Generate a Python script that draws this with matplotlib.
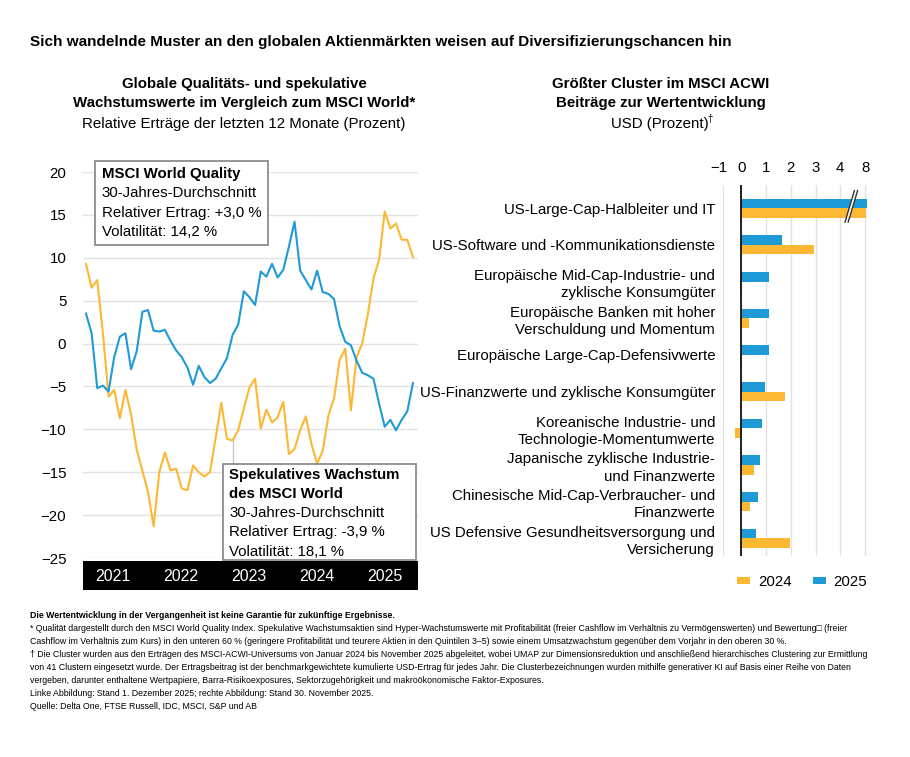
import numpy as np
import matplotlib
matplotlib.use("Agg")
from matplotlib import pyplot as plt
from matplotlib.patches import Rectangle, Patch, Polygon
from matplotlib.transforms import ScaledTranslation

plt.rcParams['font.family'] = ['Liberation Sans', 'DejaVu Sans']

# --- left chart: trailing 12-month relative returns, monthly, Jan 2021 .. Dec 2025
quality = [3.5, 1.2, -5.2, -4.9, -5.6, -1.6, 0.8, 1.2, -3.0, -0.9,
           3.7, 3.9, 1.5, 1.4, 1.6, 0.3, -0.8, -1.6, -2.8, -4.8,
           -2.6, -3.9, -4.6, -4.1, -2.9, -1.7, 1.0, 2.2, 6.1, 5.4,
           4.5, 8.4, 7.8, 9.3, 7.7, 8.6, 11.3, 14.2, 8.5, 7.4,
           6.3, 8.5, 6.0, 5.8, 5.2, 2.0, 0.2, -0.2, -2.0, -3.4,
           -3.7, -4.1, -7.0, -9.7, -8.9, -10.1, -8.9, -7.9, -4.6]
speculative = [9.3, 6.5, 7.4, 1.2, -6.2, -5.4, -8.7, -5.4, -8.3, -12.4,
               -14.8, -17.3, -21.3, -15.0, -12.7, -14.8, -14.6, -16.9, -17.1, -14.2,
               -15.0, -15.5, -15.0, -11.0, -6.9, -11.1, -11.3, -10.1, -7.6, -5.1,
               -4.1, -9.9, -7.7, -9.2, -8.6, -6.8, -12.9, -12.3, -10.1, -8.5,
               -11.7, -14.0, -12.5, -8.4, -6.4, -1.9, -0.6, -7.8, -1.6, 0.0,
               3.4, 7.6, 9.8, 15.4, 13.4, 14.0, 12.1, 12.1, 10.1]
years = ['2021', '2022', '2023', '2024', '2025']
yticks_left = [20, 15, 10, 5, 0, -5, -10, -15, -20, -25]

quality_box = ['MSCI World Quality', '30-Jahres-Durchschnitt',
               'Relativer Ertrag: +3,0 %', 'Volatilität: 14,2 %']
spec_box = ['Spekulatives Wachstum', 'des MSCI World', '30-Jahres-Durchschnitt',
            'Relativer Ertrag: -3,9 %', 'Volatilität: 18,1 %']

# --- right chart: contribution to return by cluster
clusters = ['US-Large-Cap-Halbleiter und IT',
            'US-Software und -Kommunikationsdienste',
            'Europäische Mid-Cap-Industrie- und\nzyklische Konsumgüter',
            'Europäische Banken mit hoher\nVerschuldung und Momentum',
            'Europäische Large-Cap-Defensivwerte',
            'US-Finanzwerte und zyklische Konsumgüter',
            'Koreanische Industrie- und\nTechnologie-Momentumwerte',
            'Japanische zyklische Industrie-\nund Finanzwerte',
            'Chinesische Mid-Cap-Verbraucher- und\nFinanzwerte',
            'US Defensive Gesundheitsversorgung und\nVersicherung']
val_2024 = [8.1, 2.95, -0.05, 0.31, -0.05, 1.75, -0.36, 0.51, 0.35, 1.95]
val_2025 = [8.3, 1.65, 1.1, 1.1, 1.1, 0.95, 0.83, 0.76, 0.69, 0.59]
xticks_right = [-1, 0, 1, 2, 3, 4, 8]

title = 'Sich wandelnde Muster an den globalen Aktienmärkten weisen auf Diversifizierungschancen hin'
footnotes = [
    'Die Wertentwicklung in der Vergangenheit ist keine Garantie für zukünftige Ergebnisse.',
    '* Qualität dargestellt durch den MSCI World Quality Index. Spekulative Wachstumsaktien sind Hyper-Wachstumswerte mit Profitabilität (freier Cashflow im Verhältnis zu Vermögenswerten) und Bewertung\u25a1 (freier',
    'Cashflow im Verhältnis zum Kurs) in den unteren 60 % (geringere Profitabilität und teurere Aktien in den Quintilen 3\u20135) sowie einem Umsatzwachstum gegenüber dem Vorjahr in den oberen 30 %.',
    '\u2020 Die Cluster wurden aus den Erträgen des MSCI-ACWI-Universums von Januar 2024 bis November 2025 abgeleitet, wobei UMAP zur Dimensionsreduktion und anschließend hierarchisches Clustering zur Ermittlung',
    'von 41 Clustern eingesetzt wurde. Der Ertragsbeitrag ist der benchmarkgewichtete kumulierte USD-Ertrag für jedes Jahr. Die Clusterbezeichnungen wurden mithilfe generativer KI auf Basis einer Reihe von Daten',
    'vergeben, darunter enthaltene Wertpapiere, Barra-Risikoexposures, Sektorzugehörigkeit und makroökonomische Faktor-Exposures.',
    'Linke Abbildung: Stand 1. Dezember 2025; rechte Abbildung: Stand 30. November 2025.',
    'Quelle: Delta One, FTSE Russell, IDC, MSCI, S&P und AB',
]

BLUE = '#1E9AD6'
YELLOW = '#FDB833'
GRID = '#E2E2E2'
W, H = 910, 757


def fx(px):
    return px / W


def fy(py):
    return 1 - py / H


fig = plt.figure(figsize=(W / 100, H / 100), dpi=100)

fig.text(fx(30), fy(42), title, fontsize=11, fontweight='bold', va='center')

# subtitles
fig.text(fx(244), fy(84), 'Globale Qualitäts- und spekulative', fontsize=10.8,
         fontweight='bold', ha='center', va='center')
fig.text(fx(244), fy(103), 'Wachstumswerte im Vergleich zum MSCI World*', fontsize=10.8,
         fontweight='bold', ha='center', va='center')
fig.text(fx(244), fy(124), 'Relative Erträge der letzten 12 Monate (Prozent)', fontsize=10.8,
         ha='center', va='center')
fig.text(fx(661), fy(84), 'Größter Cluster im MSCI ACWI', fontsize=10.8,
         fontweight='bold', ha='center', va='center')
fig.text(fx(661), fy(103), 'Beiträge zur Wertentwicklung', fontsize=10.8,
         fontweight='bold', ha='center', va='center')
usd = fig.text(fx(660), fy(124), 'USD (Prozent)', fontsize=10.8, ha='center', va='center')

# ---------------- left chart
ax1 = fig.add_axes([fx(83), fy(558), (418 - 83) / W, (558 - 172) / H])
months = np.arange(len(quality))
ax1.plot(months, speculative, color=YELLOW, lw=1.5, zorder=3)
ax1.plot(months, quality, color=BLUE, lw=1.5, zorder=3)
ax1.set_xlim(-0.53, 58.9)
ax1.set_ylim(-25, 20)
ax1.set_yticks(yticks_left)
ax1.yaxis.grid(True, color=GRID, lw=1)
ax1.set_axisbelow(True)
ax1.set_xticks([])
ax1.tick_params(axis='y', length=0, pad=12, labelsize=10.8)
for s in ax1.spines.values():
    s.set_visible(False)

# leader line from speculative box to series
ax1.plot([months[26], months[26]], [speculative[26], -14.2], color='#C8C8C8', lw=1, zorder=2)

# year band
axb = fig.add_axes([fx(83), fy(590), (418 - 83) / W, 29 / H])
axb.set_facecolor('black')
axb.set_xlim(ax1.get_xlim())
axb.set_ylim(0, 1)
for k, yr in enumerate(years):
    axb.text(4.8 + 12.05 * k, 0.48, yr, color='white', fontsize=11.5, ha='center', va='center')
axb.set_xticks([])
axb.set_yticks([])
for s in axb.spines.values():
    s.set_visible(False)


def text_box(x0, y0, x1, y1, lines, nbold, tx, ty0, dy):
    fig.patches.append(Rectangle((fx(x0), fy(y1)), fx(x1) - fx(x0), fy(y0) - fy(y1),
                                 transform=fig.transFigure, facecolor='white',
                                 edgecolor='#8C8C8C', lw=1.3, zorder=5))
    for k, line in enumerate(lines):
        fig.text(fx(tx), fy(ty0 + k * dy), line, fontsize=10.8, va='center',
                 fontweight='bold' if k < nbold else 'normal', zorder=6)


text_box(95, 160.5, 268, 245.5, quality_box, 1, 101.5, 174, 19.3)
text_box(222.5, 464, 416, 560, spec_box, 2, 229, 474.5, 19.3)

# ---------------- right chart (broken axis between 4 and 8)


def fwd(v):
    v = np.asarray(v, dtype=float)
    return np.where(v > 4, 4 + (v - 4) / 4, np.where(v < 0, v * 0.72, v))


def inv(p):
    p = np.asarray(p, dtype=float)
    return np.where(p > 4, 4 + (p - 4) * 4, np.where(p < 0, p / 0.72, p))


left_px, unit = 741.3 - 0.72 * 24.75, 24.75
right_px = 741.3 + (4 + (8.5 - 4) / 4) * unit
ax2 = fig.add_axes([fx(left_px), fy(556), (right_px - left_px) / W, (556 - 185) / H])
ax2.set_xscale('function', functions=(fwd, inv))
ypos = np.arange(len(clusters))
ax2.barh(ypos - 0.13, val_2025, height=0.26, color=BLUE, zorder=3, label='2025')
ax2.barh(ypos + 0.13, val_2024, height=0.26, color=YELLOW, zorder=3, label='2024')
ax2.set_xlim(-1, 8.5)
ax2.set_ylim(9.48, -0.63)
ax2.set_xticks(xticks_right)
ax2.set_xticklabels([str(t).replace('-', '\u2212') for t in xticks_right])
ax2.xaxis.tick_top()
ax2.xaxis.grid(True, color=GRID, lw=1)
ax2.set_axisbelow(True)
ax2.axvline(0, color='black', lw=1.2, zorder=4)
ax2.set_yticks(ypos)
ax2.set_yticklabels(clusters, linespacing=1.3)
ax2.tick_params(axis='y', length=0, pad=6, labelsize=10.8)
ax2.tick_params(axis='x', length=0, pad=7, labelsize=10.8)
for s in ax2.spines.values():
    s.set_visible(False)
# the "-1" label sits a little left of its gridline in the original
lab = ax2.get_xticklabels()[0]
lab.set_transform(lab.get_transform() + ScaledTranslation(-5 / 100, 0, fig.dpi_scale_trans))

# break mark
bx = [0.84, 0.905]
by = [0.90, 0.985]
gap = 0.022
ax2.add_patch(Polygon([(bx[0], by[0]), (bx[1], by[1]), (bx[1] + gap, by[1]), (bx[0] + gap, by[0])],
                      closed=True, transform=ax2.transAxes, facecolor='white', edgecolor='none',
                      zorder=6, clip_on=False))
for off in (0, gap):
    ax2.plot([bx[0] + off, bx[1] + off], by, transform=ax2.transAxes, color='#333333',
             lw=1, zorder=7, clip_on=False)

handles = [Patch(facecolor=YELLOW, label='2024'), Patch(facecolor=BLUE, label='2025')]
fig.legend(handles=handles, loc='center', bbox_to_anchor=(fx(802), fy(582)), ncol=2,
           frameon=False, fontsize=10.8, handlelength=0.9, handleheight=0.3,
           handletextpad=0.5, columnspacing=1.4)

# footnotes, sized so that the long second line spans the same width as the original
notes = []
for k, line in enumerate(footnotes):
    notes.append(fig.text(fx(30), fy(616 + 12.9 * k), line, fontsize=7, va='center',
                          fontweight='bold' if k == 0 else 'normal'))
fig.canvas.draw()
renderer = fig.canvas.get_renderer()
scale = 824 / notes[1].get_window_extent(renderer).width
for t in notes:
    t.set_fontsize(7 * scale)

# small dagger right after "USD (Prozent)"
usd_box = usd.get_window_extent(renderer)
fig.text((usd_box.x1 - 1.5) / W, fy(119), '\u2020', fontsize=7, ha='left', va='center')

fig.savefig('out.png', dpi=100)
